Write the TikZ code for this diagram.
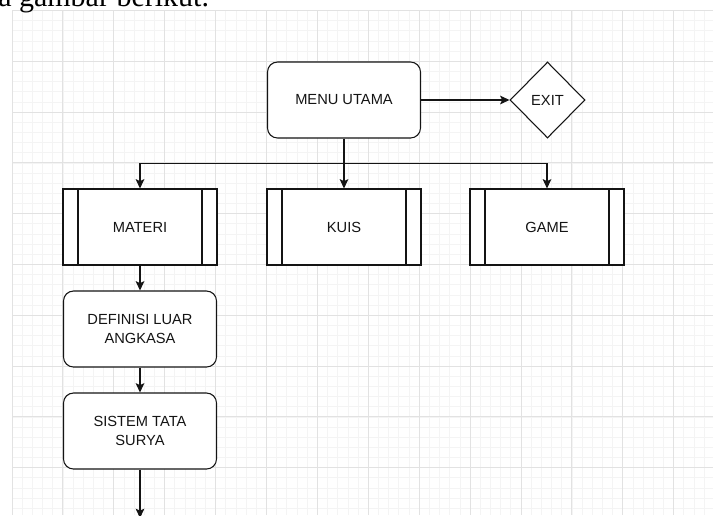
\documentclass[tikz,border=0pt]{standalone}
\usepackage{fontspec}
\setmainfont{Liberation Sans}
\newfontfamily\serifdoc{Liberation Serif}
\usetikzlibrary{shapes.geometric,arrows.meta}
\definecolor{gridminor}{RGB}{244,244,244}
\definecolor{gridmajor}{RGB}{226,226,226}
\definecolor{ink}{RGB}{20,20,20}
\tikzset{
  base/.style={draw=ink, line width=0.8pt, fill=white, text=ink,
    font=\fontsize{11}{13.75}\selectfont, align=center, inner sep=2pt},
  rbox/.style={base, rectangle, rounded corners=7.5pt,
    minimum width=114.75pt, minimum height=57pt},
  procbox/.style={base, rectangle, minimum width=115.5pt, minimum height=57pt,
    path picture={
      \draw[ink, line width=0.8pt]
        ([xshift=11.25pt]path picture bounding box.north west) --
        ([xshift=11.25pt]path picture bounding box.south west);
      \draw[ink, line width=0.8pt]
        ([xshift=-11.25pt]path picture bounding box.north east) --
        ([xshift=-11.25pt]path picture bounding box.south east);
    }},
  decision/.style={base, diamond, inner sep=0pt,
    minimum width=56.25pt, minimum height=57pt},
  arr/.style={draw=ink, line width=0.8pt,
    -{Stealth[length=7pt,width=6.5pt,inset=1.5pt]}},
  minorline/.style={draw=gridminor, line width=0.6pt},
  majorline/.style={draw=gridmajor, line width=0.7pt}
}
\begin{document}
\begin{tikzpicture}[x=0.75pt,y=-0.75pt]
\useasboundingbox (0,0) rectangle (713,515);
\clip (0,0) rectangle (713,515);
% grid
\foreach \i in {0,...,69} {\draw[minorline] (12+\i*10.18,10.5) -- (12+\i*10.18,515);}
\foreach \j in {0,...,50} {\draw[minorline] (12,10.5+\j*10.16) -- (713,10.5+\j*10.16);}
\foreach \i in {0,...,13} {\draw[majorline] (12+\i*50.9,10.5) -- (12+\i*50.9,515);}
\foreach \j in {0,...,10} {\draw[majorline] (12,10.5+\j*50.8) -- (713,10.5+\j*50.8);}
% cut-off text line above
\node[anchor=base west, inner sep=0pt, text=black,
  font=\serifdoc\fontsize{22.5}{26}\selectfont] (caption) at (-2,6.5) {a gambar berikut.};
% nodes
\node[rbox] (menu) at (344,100) {MENU UTAMA};
\node[decision] (exit) at (547.5,100) {EXIT};
\node[procbox] (materi) at (140,227) {MATERI};
\node[procbox] (kuis) at (344,227) {KUIS};
\node[procbox] (game) at (547,227) {GAME};
\node[rbox] (def) at (140,329) {DEFINISI LUAR\\ANGKASA};
\node[rbox] (sis) at (140,431) {SISTEM TATA\\SURYA};
\coordinate (bus) at (344,163.5);
\coordinate (down) at (140,518);
% connectors
\draw[arr] (menu) -- (exit);
\draw[arr] (menu.south) -- (bus) -| (materi.north);
\draw[arr] (bus) -- (kuis.north);
\draw[arr] (bus) -| (game.north);
\draw[arr] (materi) -- (def);
\draw[arr] (def) -- (sis);
\draw[arr] (sis) -- (down);
\end{tikzpicture}
\end{document}
